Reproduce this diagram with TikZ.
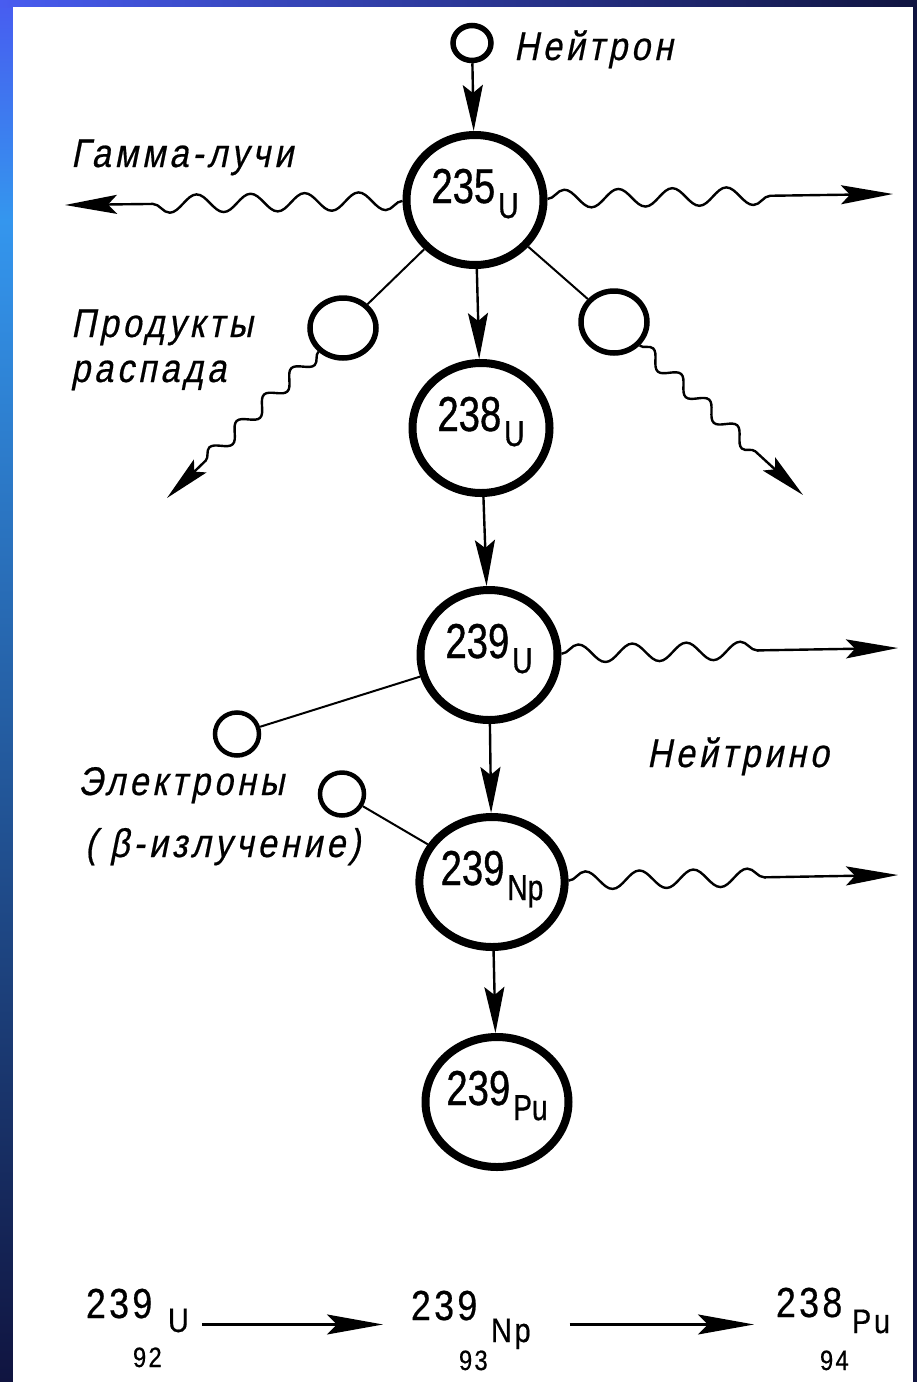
\documentclass[tikz,border=0pt]{standalone}
\usepackage{fontspec}
\newfontfamily\nuclfont[FakeStretch=0.78,FakeBold=0.8]{Liberation Sans}
\newfontfamily\labelfont[FakeStretch=0.85,FakeSlant=0.2,FakeBold=0.5,LetterSpace=10]{Liberation Sans}
\newfontfamily\eqfont[FakeStretch=0.85,FakeBold=0.5,LetterSpace=8]{Liberation Sans}
\usepackage{tikz}
\usetikzlibrary{arrows.meta,decorations.pathmorphing,shapes.geometric}
\definecolor{edgeblue}{RGB}{72,92,240}
\definecolor{edgecyan}{RGB}{52,150,238}
\definecolor{edgenavy}{RGB}{16,20,64}
\newcommand{\nucl}[2]{{\fontsize{49}{49}\selectfont #1}\hspace{3pt}\raisebox{-15pt}{\fontsize{36}{36}\selectfont #2}}

\begin{document}
\begin{tikzpicture}[x=1pt, y=-1pt, line width=2pt,
    nucleus/.style={ellipse, draw, line width=8pt, minimum width=137pt,
      minimum height=130pt, inner sep=0pt, text height=36pt, text depth=30pt, font=\nuclfont},
    particle/.style={ellipse, draw, line width=5.5pt, inner sep=0pt},
    txt/.style={anchor=base west, inner sep=0pt, font=\labelfont\fontsize{40}{44}\selectfont},
    flow/.style={line width=2.4pt, -{Stealth[length=46pt, width=20pt, inset=8pt]}},
    ray/.style={line width=2.4pt, -{Stealth[length=52pt, width=19pt, inset=9pt]},
      decorate, decoration={snake, amplitude=9pt, segment length=54pt, post length=#1}},
    decay/.style={line width=2.4pt, -{Stealth[length=46pt, width=18pt, inset=8pt]},
      decorate, decoration={snake, amplitude=7pt, segment length=38pt, post length=48pt}},
    eqmass/.style={anchor=base west, inner sep=0pt, font=\eqfont\fontsize{42}{42}\selectfont},
    eqsym/.style={anchor=base west, inner sep=0pt, font=\eqfont\fontsize{34}{34}\selectfont},
    eqz/.style={anchor=base west, inner sep=0pt, font=\eqfont\fontsize{28}{28}\selectfont},
    eqflow/.style={line width=2.2pt, -{Stealth[length=56pt, width=20pt, inset=10pt]}}]
  \useasboundingbox (0,0) rectangle (917,1382);
  \fill[edgenavy] (0,0) rectangle (917,1382);
  \shade[top color=edgeblue, bottom color=edgecyan] (0,0) rectangle (13,220);
  \shade[top color=edgecyan, bottom color=edgenavy] (0,220) rectangle (13,1382);
  \shade[left color=edgeblue, right color=edgenavy] (0,0) rectangle (917,7);
  \fill[white] (13,7) rectangle (913,1382);

  \node[particle, minimum width=38pt, minimum height=35pt] (neu) at (472,43) {};
  \node[nucleus] (U235) at (475,200) {\nucl{235}{U}};
  \node[particle, minimum width=66pt, minimum height=60pt] (prodL) at (343,328) {};
  \node[particle, minimum width=66pt, minimum height=62pt] (prodR) at (614,322) {};
  \node[nucleus] (U238) at (481,428) {\nucl{238}{U}};
  \node[nucleus] (U239) at (489,655) {\nucl{239}{U}};
  \node[particle, line width=4.5pt, minimum width=44pt, minimum height=43pt] (e1) at (237,734) {};
  \node[particle, line width=4.5pt, minimum width=44pt, minimum height=43pt] (e2) at (342,794) {};
  \node[nucleus] (Np239) at (492,882) {\nucl{239}{Np}};
  \node[nucleus] (Pu239) at (497,1102) {\nucl{239}{Pu}};

  \coordinate (gammaL) at (65,205);
  \coordinate (gammaR) at (893,194);
  \coordinate (decayL) at (167,498);
  \coordinate (decayR) at (803,495);
  \coordinate (nuU) at (898,648);
  \coordinate (nuNp) at (898,875);

  \node[txt] (neutxt)   at (513,60)  {Нейтрон};
  \node[txt] (gamtxt)   at (70,167)  {Гамма-лучи};
  \node[txt] (prodtxt)  at (70,337)  {Продукты};
  \node[txt] (prodtxt2) at (70,382)  {распада};
  \node[txt] (nutxt)    at (646,767) {Нейтрино};
  \node[txt] (eltxt)    at (77,795)  {Электроны};
  \node[txt] (betatxt)  at (84,857)  {( β-излучение)};

  \draw[flow] (neu) -- (U235);
  \draw[flow] (U235) -- (U238);
  \draw[flow] (U238) -- (U239);
  \draw[flow] (U239) -- (Np239);
  \draw[flow] (Np239) -- (Pu239);
  \draw (U235) -- (prodL)
        (U235) -- (prodR)
        (e1) -- (U239)
        (e2) -- (Np239);
  \draw[ray=85pt]  (U235) -- (gammaL);
  \draw[ray=110pt] (U235) -- (gammaR);
  \draw[ray=114pt] (U239) -- (nuU);
  \draw[ray=114pt] (Np239) -- (nuNp);
  \draw[decay] (prodL) -- (decayL);
  \draw[decay] (prodR) -- (decayR);

  \node[eqmass] (m1) at (85,1318)  {239};
  \node[eqsym]  (s1) at (167,1332) {U};
  \node[eqz]    (z1) at (132,1367) {92};
  \node[eqmass] (m2) at (410,1320) {239};
  \node[eqsym]  (s2) at (490,1342) {Np};
  \node[eqz]    (z2) at (458,1370) {93};
  \node[eqmass] (m3) at (775,1317) {238};
  \node[eqsym]  (s3) at (851,1333) {Pu};
  \node[eqz]    (z3) at (819,1370) {94};
  \draw[eqflow, shorten <=12pt, shorten >=27pt] ([yshift=-4pt]s1.east) -- ([yshift=-4pt]s1.east -| m2.west);
  \draw[eqflow, shorten <=38pt, shorten >=21pt] ([yshift=-4pt]s2.east |- s1.east) -- ([yshift=-4pt]s1.east -| m3.west);
\end{tikzpicture}
\end{document}
